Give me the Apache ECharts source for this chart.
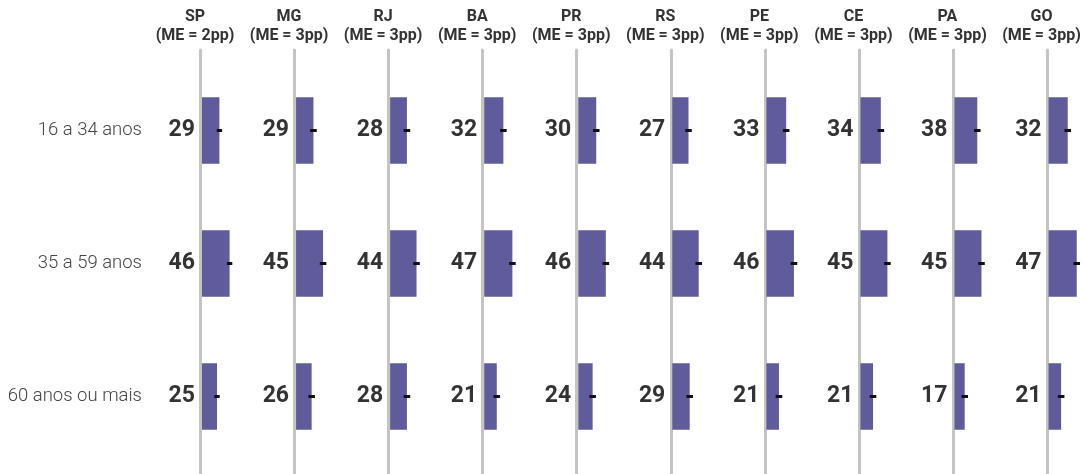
<!DOCTYPE html>
<html>
<head>
<meta charset="utf-8">
<script src="https://cdn.jsdelivr.net/npm/echarts@6/dist/echarts.min.js"></script>
<style>
html,body{margin:0;padding:0;background:#fff;}
#chart{width:1085px;height:474px;}
</style>
</head>
<body>
<div id="chart"></div>
<script>
// ---- DATA ----
const states = ['SP','MG','RJ','BA','PR','RS','PE','CE','PA','GO'];
const marginOfError = [2,3,3,3,3,3,3,3,3,3];
const ageGroups = ['16 a 34 anos','35 a 59 anos','60 anos ou mais'];
const age16to34 = [29,29,28,32,30,27,33,34,38,32];
const age35to59 = [46,45,44,47,46,44,46,45,45,47];
const age60plus = [25,26,28,21,24,29,21,21,17,21];

// ---- LAYOUT ----
const firstLeft = 202, step = 94.06, panelW = 30, axisMax = 50;
const FONT = 'Roboto';
const barColor = '#605c9b';

const chart = echarts.init(document.getElementById('chart'));
const grids = [], xAxes = [], yAxes = [], series = [], titles = [];
const valuesByAge = [age16to34, age35to59, age60plus];

states.forEach((st, i) => {
  const L = firstLeft + i * step;
  // grid for the gray baseline
  grids.push({left: L - 1.5, top: 50, width: panelW, bottom: 0, containLabel: false});
  xAxes.push({type: 'value', gridIndex: 2*i, min: 0, max: axisMax, show: false});
  yAxes.push({type: 'value', gridIndex: 2*i, min: 0, max: 1,
    axisLine: {show: true, onZero: false, lineStyle: {color: '#c4c4c4', width: 3}},
    axisTick: {show: false}, axisLabel: {show: false}, splitLine: {show: false}});
  // grid for bars
  grids.push({left: L, top: 64, width: panelW, bottom: 11, containLabel: false});
  xAxes.push({type: 'value', gridIndex: 2*i+1, min: 0, max: axisMax, show: false});
  yAxes.push({type: 'category', gridIndex: 2*i+1, data: ageGroups, inverse: true,
    axisLine: {show: false}, axisTick: {show: false}, splitLine: {show: false},
    axisLabel: {show: i === 0, margin: 60, fontFamily: FONT, fontSize: 18.5, fontWeight: 300, color: '#444'}});
  const vals = valuesByAge.map(a => a[i]);
  series.push({
    type: 'bar', xAxisIndex: 2*i+1, yAxisIndex: 2*i+1,
    data: vals, barWidth: '50%', itemStyle: {color: barColor},
    label: {show: true, position: 'left', distance: 7, fontFamily: FONT, fontSize: 23,
      fontWeight: 'bold', color: '#333'},
    z: 2
  });
  series.push({
    type: 'custom', xAxisIndex: 2*i+1, yAxisIndex: 2*i+1, clip: false,
    data: vals.map((v, k) => [k, v, marginOfError[i]]),
    encode: {x: 1, y: 0},
    renderItem: function (params, api) {
      const c = api.value(0), v = api.value(1), me = api.value(2);
      const p1 = api.coord([v - me, c]);
      const p2 = api.coord([v + me, c]);
      return {type: 'line', shape: {x1: p1[0], y1: p1[1], x2: p2[0], y2: p2[1]},
        style: {stroke: '#111', lineWidth: 3, lineCap: 'square'}};
    },
    z: 5, silent: true
  });
  titles.push({
    text: st + '\n(ME = ' + marginOfError[i] + 'pp)',
    left: L - 12, top: 2, textAlign: 'center',
    textStyle: {fontFamily: FONT, fontSize: 16, fontWeight: 'bold', color: '#333', lineHeight: 19}
  });
});

chart.setOption({
  animation: false,
  backgroundColor: '#fff',
  title: titles,
  grid: grids, xAxis: xAxes, yAxis: yAxes, series: series
});
</script>
</body>
</html>
